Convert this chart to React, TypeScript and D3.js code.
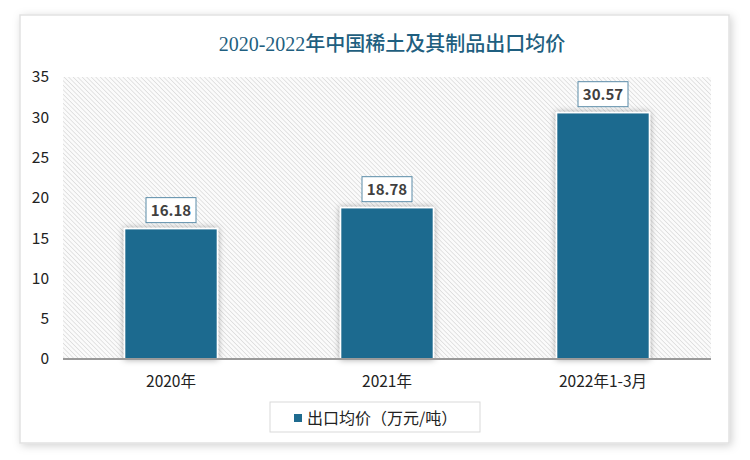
import React from "react";
import * as d3 from "d3";

const categories = ["2020年", "2021年", "2022年1-3月"];
const values = [16.18, 18.78, 30.57];
const yTicks = [0, 5, 10, 15, 20, 25, 30, 35];
const title = "2020-2022年中国稀土及其制品出口均价";
const seriesName = "出口均价（万元/吨）";

const W = 750;
const H = 460;
const plot = { left: 63, right: 711, top: 77, bottom: 359 };
const barColor = "#1f6b8f";
const font = "'Noto Sans CJK SC', 'Noto Sans', sans-serif";

export default function App() {
  const x = d3
    .scaleBand<string>()
    .domain(categories)
    .range([plot.left, plot.right])
    .paddingInner(0.57)
    .paddingOuter(0.285);
  const y = d3.scaleLinear().domain([0, 35]).range([plot.bottom, plot.top]);

  return (
    <div style={{ position: "fixed", left: 0, top: 0 }}>
      <svg width={W} height={H} style={{ display: "block", background: "#fff" }} fontFamily={font}>
        <defs>
          <filter id="cardShadow" x="-10%" y="-10%" width="120%" height="120%">
            <feDropShadow dx="2" dy="2" stdDeviation="4" floodColor="#000" floodOpacity="0.18" />
          </filter>
          <filter id="barShadow" x="-20%" y="-20%" width="140%" height="140%">
            <feDropShadow dx="0" dy="0" stdDeviation="3" floodColor="#000" floodOpacity="0.35" />
          </filter>
          <pattern id="hatch" width="3.2" height="3.2" patternUnits="userSpaceOnUse" patternTransform="rotate(-45)">
            <rect width="3.2" height="3.2" fill="#fbfbfb" />
            <line x1="0" y1="0" x2="0" y2="3.2" stroke="#d6d6d6" strokeWidth="1.3" />
          </pattern>
        </defs>

        <rect x={20} y={15} width={709} height={428} fill="#fff" stroke="#e2e2e2" strokeWidth={1.5} filter="url(#cardShadow)" />

        <text
          x={392}
          y={51}
          textAnchor="middle"
          fontSize={20}
          fontWeight={500}
          fill="#1f5f80"
          fontFamily="'Liberation Serif', 'Noto Sans CJK SC', serif"
        >
          {title}
        </text>

        <rect
          x={plot.left}
          y={plot.top}
          width={plot.right - plot.left}
          height={plot.bottom - plot.top}
          fill="url(#hatch)"
        />

        {yTicks.map((t) => (
          <text key={t} x={49} y={y(t)} dy="0.35em" textAnchor="end" fontSize={15.5} fill="#222">
            {t}
          </text>
        ))}

        {categories.map((c, i) => {
          const bx = x(c)!;
          const bw = x.bandwidth();
          const by = y(values[i]);
          const cx = bx + bw / 2;
          const label = values[i].toFixed(2);
          const boxW = 50;
          const boxH = 25;
          return (
            <g key={c}>
              <rect
                x={bx}
                y={by}
                width={bw}
                height={plot.bottom - by}
                fill={barColor}
                stroke="#fff"
                strokeWidth={1.5}
                filter="url(#barShadow)"
              />
              <rect
                x={cx - boxW / 2}
                y={by - 6 - boxH}
                width={boxW}
                height={boxH}
                fill="#fff"
                stroke="#5a8ba8"
                strokeWidth={1}
              />
              <text
                x={cx}
                y={by - 6 - boxH / 2}
                dy="0.36em"
                textAnchor="middle"
                fontSize={15}
                fontWeight={700}
                fill="#404040"
              >
                {label}
              </text>
              <text x={cx} y={382} dy="0.35em" textAnchor="middle" fontSize={15.5} fill="#222">
                {c}
              </text>
            </g>
          );
        })}

        <line x1={plot.left} x2={plot.right} y1={plot.bottom} y2={plot.bottom} stroke="#9a9a9a" strokeWidth={2} />

        <rect x={270} y={402} width={210} height={30} fill="#fff" stroke="#d9d9d9" strokeWidth={1} />
        <rect x={294} y={414} width={8} height={8} fill={barColor} />
        <text x={307} y={418} dy="0.35em" fontSize={16} fill="#222">
          {seriesName}
        </text>
      </svg>
    </div>
  );
}
